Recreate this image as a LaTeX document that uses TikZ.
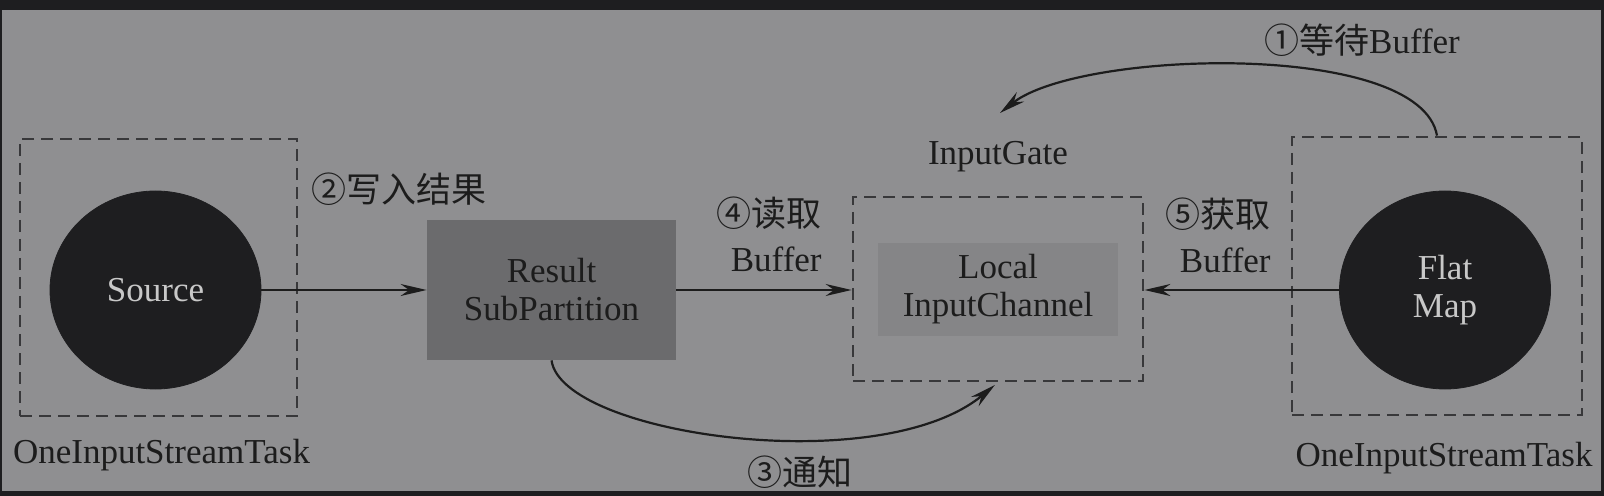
\documentclass[tikz,border=0pt]{standalone}
\usepackage{fontspec}
\setmainfont{Liberation Serif}
\newfontfamily\cjk{Noto Sans CJK SC}
\usepackage{tikz}
\usepackage{xcolor}
\usetikzlibrary{shapes.geometric,arrows.meta}
\definecolor{framecolor}{HTML}{1e1e20}
\definecolor{papercolor}{HTML}{8f8f91}
\definecolor{inkcolor}{HTML}{1c1c1c}
\definecolor{boxcolor1}{HTML}{6b6b6d}
\definecolor{boxcolor2}{HTML}{858587}
\definecolor{dashcolor}{HTML}{38383a}
\definecolor{opcolor}{HTML}{1e1e20}
\definecolor{optextcolor}{HTML}{c8c8c8}

\tikzset{
    taskbox/.style = {draw = dashcolor, dash pattern = on 6pt off 3.5pt, line width = 1.4pt, rectangle},
    opnode/.style = {fill = opcolor, draw = opcolor, ellipse, minimum width = 105.5pt, minimum height = 99pt, inner sep = 0pt, text = optextcolor, align = center},
    link/.style = {-{Stealth[length = 13pt, width = 6pt]}, line width = 1.1pt, inkcolor},
    lbl/.style = {inner sep = 0pt, text = inkcolor}
}

\begin{document}
\begin{tikzpicture}[x = 0.5pt, y = -0.5pt, font = \fontsize{17.5}{19}\selectfont]
        % Background
        \fill [framecolor] (0, 0) rectangle (1604, 496);
        \fill [papercolor] (2, 10) rectangle (1601, 491);

        % Nodes
        \node [taskbox, minimum width = 138.5pt, minimum height = 138.5pt] (taskL) at (158.5, 277.5) {};
        \node [opnode] (src) at (155.5, 290) {Source};
        \node [fill = boxcolor1, rectangle, minimum width = 124.5pt, minimum height = 70pt, align = center, text = inkcolor] (rsp) at (551.5, 290) {Result\\SubPartition};
        \node [taskbox, minimum width = 145pt, minimum height = 92pt] (gate) at (998, 289) {};
        \node [fill = boxcolor2, rectangle, minimum width = 120pt, minimum height = 46.5pt, align = center, text = inkcolor] (lic) at (998, 289.5) {Local\\InputChannel};
        \node [taskbox, minimum width = 145pt, minimum height = 139pt] (taskR) at (1437, 276) {};
        \node [opnode] (fmap) at (1445, 290) {Flat\\Map};

        % Labels
        \node [lbl] (taskLlbl) at (161.5, 455) {OneInputStreamTask};
        \node [lbl] (taskRlbl) at (1444, 458) {OneInputStreamTask};
        \node [lbl] (gatelbl) at (998, 157) {InputGate};
        \node [lbl] (writelbl) at (399, 189) {{\cjk ②写入结果}};
        \node [lbl, align = right, anchor = east] (readlbl) at (822, 234) {{\cjk ④读取}\\[3.5pt]Buffer};
        \node [lbl, align = right, anchor = east] (fetchlbl) at (1271, 235) {{\cjk ⑤获取}\\[3.5pt]Buffer};
        \node [lbl] (notifylbl) at (800, 472) {{\cjk ③通知}};
        \node [lbl] (waitlbl) at (1362, 40) {{\cjk ①等待}Buffer};

        % Draw the links
        \coordinate (waitend) at (1000, 113);
        \draw [link] (src.east) -- (rsp.west);
        \draw [link] (rsp.east) -- (rsp.east -| gate.west);
        \draw [link] (fmap.west) -- (fmap.west -| gate.east);
        \draw [link, shorten >= 2pt] (rsp.south) .. controls (562, 435) and (880, 480) .. (gate.south);
        \draw [link] (taskR.north) .. controls (1420, 40) and (1080, 50) .. (waitend);

\end{tikzpicture}
\end{document}
